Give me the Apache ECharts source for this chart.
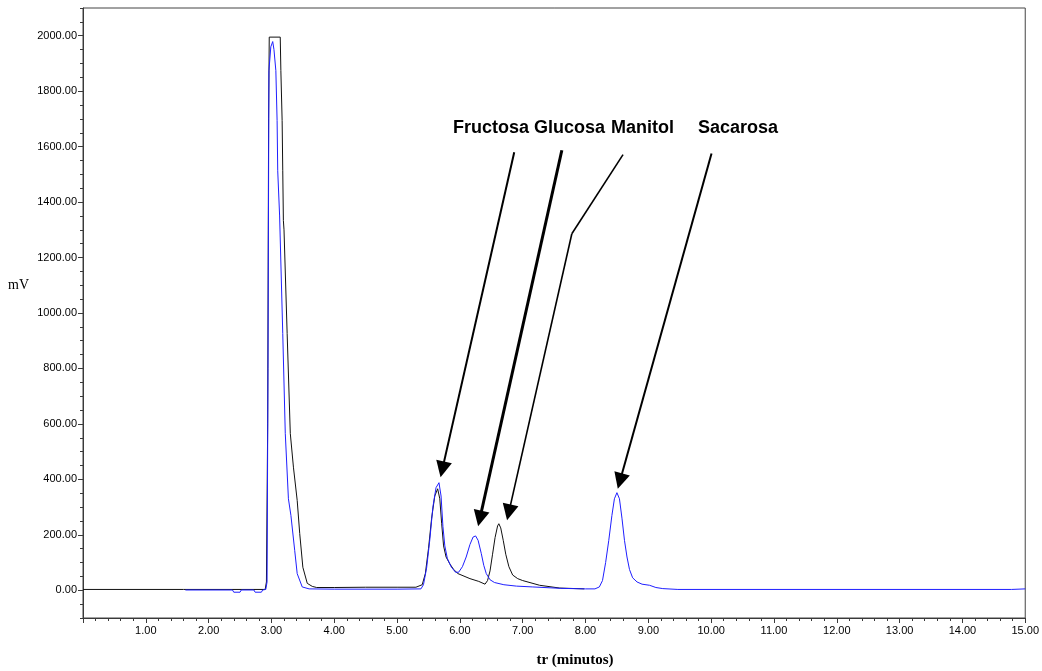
<!DOCTYPE html>
<html>
<head>
<meta charset="utf-8">
<title>Cromatograma azúcares</title>
<script src="https://cdn.jsdelivr.net/npm/echarts@6/dist/echarts.min.js"></script>
<style>
    html, body { margin: 0; padding: 0; background: #fff; }
    #chart { width: 1042px; height: 671px; }
</style>
</head>
<body>
<div id="chart"></div>
<script>
    // muestra 1 (negro): tiempo de retención (min) y señal (mV)
    var blackTime = [0, 1.6, 2.90, 2.92, 2.94, 2.955, 2.965, 3.14, 3.15, 3.17, 3.18, 3.19, 3.20, 3.25, 3.30, 3.35, 3.41, 3.45, 3.50, 3.57, 3.65, 3.72,
        4.0, 4.5, 5.0, 5.3, 5.40, 5.45, 5.50, 5.55, 5.60, 5.646, 5.68, 5.71, 5.74, 5.78, 5.84, 5.90, 5.97, 6.16, 6.30, 6.40,
        6.44, 6.48, 6.52, 6.56, 6.60, 6.62, 6.65, 6.69, 6.73, 6.78, 6.84, 6.92, 7.00, 7.27, 7.59, 7.98];
    var blackMv = [3, 3, 3, 30, 600, 1700, 1995, 1995, 1874, 1694, 1513, 1333, 1300, 926, 566, 444, 324, 205, 83, 25, 14, 10,
        10, 11, 11, 11, 20, 60, 150, 260, 340, 366, 330, 240, 160, 120, 95, 75, 60, 42, 32, 22,
        35, 70, 130, 190, 232, 240, 225, 180, 130, 85, 55, 42, 35, 18, 8, 5];

    // muestra 2 (azul)
    var blueTime = [1.63, 2.38, 2.40, 2.50, 2.52, 2.72, 2.74, 2.84, 2.86, 2.91, 2.93, 2.945, 2.96, 2.99, 3.02, 3.04, 3.07, 3.09, 3.10, 3.13,
        3.18, 3.22, 3.27, 3.31, 3.37, 3.41, 3.49, 3.6, 4.0, 5.0, 5.38,
        5.42, 5.47, 5.52, 5.57, 5.62, 5.667, 5.70, 5.73, 5.76, 5.80, 5.86, 5.93, 5.98, 6.04, 6.10, 6.16, 6.21, 6.25, 6.29, 6.34, 6.38,
        6.42, 6.48, 6.55, 6.7, 6.9, 7.16, 7.6, 8.0, 8.15, 8.22, 8.27, 8.32, 8.37, 8.42, 8.46, 8.50, 8.54, 8.58, 8.62, 8.66, 8.70,
        8.75, 8.82, 8.9, 9.02, 9.12, 9.23, 9.47, 14.78, 14.8, 15];
    var blueMv = [1, 1, -7, -7, 1, 1, -7, -7, 1, 3, 30, 800, 1874, 1960, 1979, 1950, 1874, 1694, 1513, 1350,
        926, 566, 330, 270, 144, 60, 12, 5, 4, 4, 5,
        20, 80, 180, 300, 370, 388, 340, 230, 160, 115, 85, 65, 65, 85, 120, 165, 192, 196, 180, 133, 90,
        60, 38, 28, 20, 15, 12, 7, 5, 5, 12, 35, 100, 180, 270, 330, 352, 330, 260, 180, 120, 75,
        45, 30, 22, 18, 10, 6, 3, 3, 5, 5];

    var yTicks = [0, 200, 400, 600, 800, 1000, 1200, 1400, 1600, 1800, 2000];
    var peakNames = ['Fructosa', 'Glucosa', 'Manitol', 'Sacarosa'];

    function pairs(xs, ys) {
        return xs.map(function (x, i) { return [x, ys[i]]; });
    }

    var axisColor = '#3a3a3a';
    var tickFont = { fontSize: 11, color: '#000', fontFamily: '"Liberation Sans", Arial, sans-serif' };

    var chart = echarts.init(document.getElementById('chart'));
    chart.setOption({
        animation: false,
        backgroundColor: '#fff',
        grid: { left: 83, right: 15, top: 8, bottom: 53, show: true, borderColor: '#444', borderWidth: 1 },
        xAxis: {
            type: 'value', min: 0, max: 15, interval: 1,
            axisLine: { show: true, onZero: false, lineStyle: { color: axisColor } },
            axisTick: { show: true, length: 5, lineStyle: { color: axisColor } },
            minorTick: { show: true, splitNumber: 5, length: 3, lineStyle: { color: axisColor } },
            axisLabel: Object.assign({
                margin: 7,
                formatter: function (v) { return v === 0 ? '' : v.toFixed(2); }
            }, tickFont),
            splitLine: { show: false }
        },
        yAxis: [
            {
                type: 'value', min: -100, max: 2100, interval: 50,
                axisLine: { show: true, lineStyle: { color: axisColor } },
                axisTick: { show: true, length: 3, lineStyle: { color: axisColor } },
                axisLabel: { show: false },
                splitLine: { show: false }
            },
            {
                type: 'value', min: -100, max: 2100, position: 'left',
                axisLine: { show: false },
                axisTick: { show: true, length: 5, customValues: yTicks, lineStyle: { color: axisColor } },
                axisLabel: Object.assign({
                    margin: 6,
                    customValues: yTicks,
                    formatter: function (v) { return v.toFixed(2); }
                }, tickFont),
                splitLine: { show: false }
            }
        ],
        series: [
            {
                name: 'muestra 1', type: 'line', data: pairs(blackTime, blackMv),
                showSymbol: false, symbol: 'none',
                lineStyle: { color: '#111', width: 1 }
            },
            {
                name: 'muestra 2', type: 'line', data: pairs(blueTime, blueMv),
                showSymbol: false, symbol: 'none',
                lineStyle: { color: '#1f1fff', width: 1 }
            },
            {
                name: 'flechas', type: 'line', data: [],
                markLine: {
                    silent: true,
                    symbol: ['none', 'triangle'],
                    symbolSize: 16,
                    label: { show: false },
                    lineStyle: { color: '#000', type: 'solid', width: 2 },
                    data: [
                        [{ coord: [6.865, 1580] }, { coord: [5.72, 436] }],
                        [{ coord: [7.623, 1587], lineStyle: { width: 3 } }, { coord: [6.318, 259] }],
                        [{ coord: [8.597, 1571], symbol: 'none', lineStyle: { width: 1.6 } }, { coord: [7.782, 1286], symbol: 'none' }],
                        [{ coord: [7.782, 1286], lineStyle: { width: 1.6 } }, { coord: [6.779, 281] }],
                        [{ coord: [10.006, 1575] }, { coord: [8.548, 394] }]
                    ]
                }
            }
        ],
        graphic: [
            { type: 'text', x: 8, y: 285, style: { text: 'mV', font: '14px "Liberation Serif", "Times New Roman", serif', fill: '#000', verticalAlign: 'middle' } },
            { type: 'text', x: 575, y: 660, style: { text: 'tr (minutos)', font: 'bold 15px "Liberation Serif", "Times New Roman", serif', fill: '#000', align: 'center', verticalAlign: 'middle' } },
            { type: 'text', x: 453, y: 128, style: { text: peakNames[0], font: 'bold 18px "Liberation Sans", Arial, sans-serif', fill: '#000', verticalAlign: 'middle' } },
            { type: 'text', x: 534, y: 128, style: { text: peakNames[1], font: 'bold 18px "Liberation Sans", Arial, sans-serif', fill: '#000', verticalAlign: 'middle' } },
            { type: 'text', x: 611, y: 128, style: { text: peakNames[2], font: 'bold 18px "Liberation Sans", Arial, sans-serif', fill: '#000', verticalAlign: 'middle' } },
            { type: 'text', x: 698, y: 128, style: { text: peakNames[3], font: 'bold 18px "Liberation Sans", Arial, sans-serif', fill: '#000', verticalAlign: 'middle' } }
        ]
    });
</script>
</body>
</html>
